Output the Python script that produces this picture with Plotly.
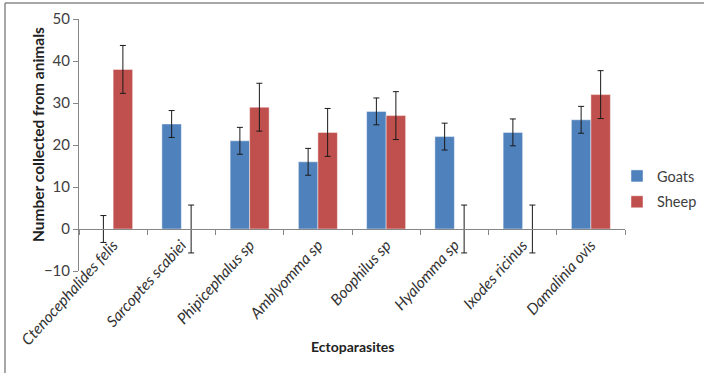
import plotly.graph_objects as go

categories = ["Ctenocephalides felis", "Sarcoptes scabiei", "Phipicephalus sp",
              "Amblyomma sp", "Boophilus sp", "Hyalomma sp", "Ixodes ricinus",
              "Damalinia ovis"]
goats = [0, 25, 21, 16, 28, 22, 23, 26]
sheep = [38, 0, 29, 23, 27, 0, 0, 32]
goats_err = [3.2] * 8
sheep_err = [5.7] * 8
y_ticks = [-10, 0, 10, 20, 30, 40, 50]

W, H = 704, 373
L, R, T, B = 79, 625, 19, 271


def px(x):
    return (x - L) / (R - L)


def py(y):
    return (B - y) / (B - T)


FONT = "Lato"
fig = go.Figure()
fig.add_trace(go.Bar(
    x=categories, y=goats, name="Goats", legendgroup="g",
    marker=dict(color="#4F81BD", line=dict(color="rgba(255,255,255,0.45)", width=1)),
    error_y=dict(type="data", array=goats_err, color="#1a1a1a", thickness=1, width=3),
))
fig.add_trace(go.Bar(
    x=categories, y=sheep, name="Sheep", legendgroup="s",
    marker=dict(color="#C0504D", line=dict(color="rgba(255,255,255,0.45)", width=1)),
    error_y=dict(type="data", array=sheep_err, color="#1a1a1a", thickness=1, width=3),
))

fig.update_layout(
    width=W, height=H,
    margin=dict(l=L, r=W - R, t=T, b=H - B, pad=0, autoexpand=False),
    paper_bgcolor="white", plot_bgcolor="white",
    barmode="group", bargap=1.5 / 3.5, bargroupgap=0,
    font=dict(family=FONT, size=13, color="#404040"),
    showlegend=True,
    legend=dict(x=px(702), y=py(160), xanchor="right", yanchor="top",
                font=dict(family=FONT, size=14.5, color="#404040"),
                tracegroupgap=4, bgcolor="rgba(0,0,0,0)", borderwidth=0),
    xaxis=dict(
        type="category", anchor="free", position=1 / 6, automargin=False,
        showline=True, linecolor="#868686", linewidth=1,
        ticks="outside", ticklen=5, tickcolor="#868686", tickson="boundaries",
        tickangle=-48,
        tickfont=dict(family=FONT, size=15.5, color="#333333", style="italic"),
        showgrid=False, zeroline=False,
    ),
    yaxis=dict(
        range=[-10, 50], tickvals=y_ticks, automargin=False,
        showline=True, linecolor="#868686", linewidth=1,
        ticks="outside", ticklen=5, tickcolor="#868686",
        tickfont=dict(family=FONT, size=15, color="#404040"),
        showgrid=False, zeroline=False,
    ),
    annotations=[
        dict(text="<b>Ectoparasites</b>", xref="paper", yref="paper",
             x=px(352), y=py(357), showarrow=False,
             font=dict(family=FONT, size=14, color="#222222")),
        dict(text="<b>Number collected from animals</b>", xref="paper", yref="paper",
             x=px(27), y=py(135), showarrow=False, textangle=-90,
             font=dict(family=FONT, size=15.5, color="#222222")),
    ],
    shapes=[
        dict(type="line", xref="paper", yref="paper", x0=px(5), x1=px(704),
             y0=py(3), y1=py(3), line=dict(color="#8a8a8a", width=1.5)),
        dict(type="line", xref="paper", yref="paper", x0=px(5), x1=px(5),
             y0=py(3), y1=py(373), line=dict(color="#8a8a8a", width=1.5)),
    ],
)

fig.write_html("out.html", config={"displayModeBar": False},
               post_script="document.body.style.margin='0px';")
